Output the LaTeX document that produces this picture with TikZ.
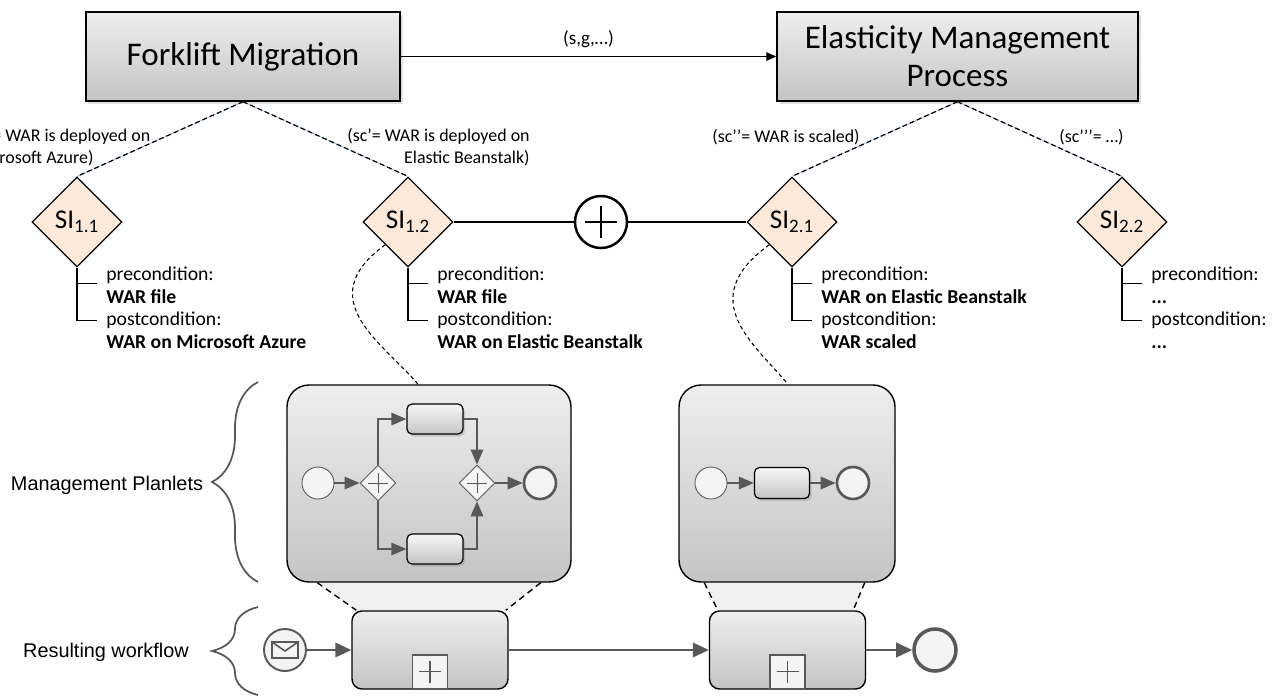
\documentclass[tikz,border=0pt]{standalone}
\usepackage{fontspec}
\usepackage{amsmath}
\setmainfont{Carlito}
\newfontfamily\arialfont{Liberation Sans}
\usetikzlibrary{calc}
\usetikzlibrary{arrows.meta}
\usetikzlibrary{shapes.geometric}
\usetikzlibrary{decorations.pathreplacing}
\usetikzlibrary{shadows}
\usetikzlibrary{backgrounds}

\definecolor{boxtop}{HTML}{EEEEEE}
\definecolor{boxbot}{HTML}{C4C4C4}
\definecolor{sifill}{HTML}{FCE9DA}
\definecolor{bpmngray}{HTML}{585858}
\definecolor{eventfill}{HTML}{F4F4F4}
\definecolor{hintblue}{HTML}{7AA6D6}
\definecolor{linkfill}{HTML}{F0F0F0}

\def\tbc{...}

\begin{document}
\begin{tikzpicture}[x=0.2mm, y=-0.2mm,
    titlebox/.style={draw, line width=0.8pt, top color=boxtop, bottom color=boxbot, align=center,
        inner sep=0pt, font=\fontsize{18.8pt}{21.6pt}\selectfont,
        drop shadow={shadow xshift=0.5mm, shadow yshift=-0.5mm, opacity=0.25}},
    titlearrow/.style={line width=0.75pt, -{Triangle[length=2mm, width=1.7mm]}},
    sinode/.style={draw, diamond, fill=sifill, line width=0.7pt, minimum width=18mm, minimum height=18mm,
        inner sep=0pt, font=\fontsize{15.4pt}{18pt}\selectfont},
    xorgate/.style={draw, circle, line width=1.4pt, fill=white, minimum size=10.4mm, inner sep=0pt,
        path picture={
            \draw[line width=1.4pt] ($(path picture bounding box.center)+(-16,0)$) -- ($(path picture bounding box.center)+(16,0)$);
            \draw[line width=1.4pt] ($(path picture bounding box.center)+(0,-16)$) -- ($(path picture bounding box.center)+(0,16)$);
        }},
    scline/.style={dash pattern=on 2.8pt off 1.7pt, line width=0.7pt},
    hint/.style={hintblue, line width=0.3pt},
    sclabel/.style={inner sep=0pt, font=\fontsize{10.2pt}{12pt}\selectfont},
    condtext/.style={inner sep=0pt, align=left, font=\fontsize{11.2pt}{12.8pt}\selectfont},
    planlet/.style={draw, line width=0.8pt, rounded corners=4.4mm, top color=boxtop, bottom color=boxbot,
        inner sep=0pt, minimum height=39.4mm},
    planletlink/.style={dash pattern=on 2.2pt off 1.7pt, line width=0.6pt},
    task/.style={draw, line width=0.7pt, rounded corners=1mm, top color=boxtop!50!white, bottom color=boxbot,
        minimum width=11.2mm, minimum height=6mm, inner sep=0pt,
        drop shadow={shadow xshift=0.4mm, shadow yshift=-0.5mm, opacity=0.3}},
    startev/.style={circle, draw=bpmngray, line width=0.5pt, fill=eventfill, minimum size=6.4mm, inner sep=0pt},
    endev/.style={circle, draw=bpmngray, line width=1.5pt, fill=eventfill, minimum size=6.4mm, inner sep=0pt},
    gateway/.style={diamond, draw=bpmngray, line width=0.5pt, fill=eventfill, minimum width=7.2mm,
        minimum height=7.2mm, inner sep=0pt,
        path picture={
            \draw[bpmngray, line width=0.5pt] ($(path picture bounding box.center)+(-10,0)$) -- ($(path picture bounding box.center)+(10,0)$);
            \draw[bpmngray, line width=0.5pt] ($(path picture bounding box.center)+(0,-10)$) -- ($(path picture bounding box.center)+(0,10)$);
        }},
    flow/.style={draw=bpmngray, line width=0.9pt, -{Triangle[length=3mm, width=2.5mm]}},
    wfflow/.style={draw=bpmngray, line width=1.1pt, -{Triangle[length=3.2mm, width=2.9mm]}},
    subproc/.style={draw, line width=0.8pt, rounded corners=2mm, top color=boxtop, bottom color=boxbot,
        minimum width=31.2mm, minimum height=15.6mm, inner sep=0pt},
    spmarker/.style={draw=bpmngray, line width=1.1pt, fill=eventfill, minimum width=7mm, minimum height=6.8mm,
        inner sep=0pt,
        path picture={
            \draw[bpmngray, line width=0.6pt] ($(path picture bounding box.center)+(-11,0)$) -- ($(path picture bounding box.center)+(11,0)$);
            \draw[bpmngray, line width=0.6pt] ($(path picture bounding box.center)+(0,-11)$) -- ($(path picture bounding box.center)+(0,11)$);
        }},
    zoomline/.style={dash pattern=on 3.5pt off 2.5pt, line width=0.8pt},
    bracelabel/.style={inner sep=0pt, font=\arialfont\fontsize{11.3pt}{13pt}\selectfont},
    ]
    \useasboundingbox (0,0) rectangle (1274,696);

    % Top Level Processes
    \node[titlebox, minimum width=62.8mm, minimum height=17.8mm] (fork) at (243,56.5) {Forklift Migration};
    \node[titlebox, minimum width=72.2mm, minimum height=17.8mm] (elastic) at (957.5,56.5) {Elasticity Management\\Process};
    \draw[titlearrow] (fork.east) -- (elastic.west) node[sclabel, midway, above=1.7mm] (sg) {\fontsize{10.8pt}{12pt}\selectfont(s,g,…)};

    % Service Instances
    \node[sinode] (si11) at (77,222) {SI$_{\text{1.1}}$};
    \node[sinode] (si12) at (408,222) {SI$_{\text{1.2}}$};
    \node[sinode] (si21) at (792,222) {SI$_{\text{2.1}}$};
    \node[sinode] (si22) at (1122,222) {SI$_{\text{2.2}}$};

    % Combination
    \node[xorgate] (xor) at (601,222) {};
    \draw[line width=0.7pt] (si12.east) -- (xor.west);
    \draw[line width=0.7pt] (xor.east) -- (si21.west);

    % Refinement Lines
    \foreach \from/\to in {fork/si11, fork/si12, elastic/si21, elastic/si22} {
        \draw[hint] (\from.south) -- (\to.north);
        \draw[scline] (\from.south) -- (\to.north);
    }

    % Refinement Labels
    \node[sclabel, anchor=north west, align=left] (lb11) at (-28,128.5) {(sc= WAR is deployed on\\Microsoft Azure)};
    \node[sclabel, anchor=north east, align=right] (lb12) at (530,128.5) {(sc’= WAR is deployed on\\Elastic Beanstalk)};
    \node[sclabel, anchor=base east] (lb21) at (860,142) {(sc’’= WAR is scaled)};
    \node[sclabel, anchor=base east] (lb22) at (1124,142) {(sc’’’= …)};

    % Pre- and Postconditions
    \foreach \n/\precond/\postcond in {si11/WAR file/WAR on Microsoft Azure,
            si12/WAR file/WAR on Elastic Beanstalk,
            si21/WAR on Elastic Beanstalk/WAR scaled,
            si22/\tbc/\tbc} {
        \draw[line width=0.6pt] (\n.south) -- ++(0,53) coordinate (\n-end);
        \draw[line width=0.6pt] ($(\n.south)+(0,16)$) -- ++(20,0);
        \draw[line width=0.6pt] (\n-end) -- ++(20,0);
        \node[condtext, anchor=north west] (\n-cond) at ($(\n.south)+(29,-1)$)
            {precondition:\\\textbf{\precond}\\postcondition:\\\textbf{\postcond}};
    }

    % Management Planlets
    \node[planlet, minimum width=56.8mm] (pl1) at (429,483.5) {};
    \node[planlet, minimum width=43.2mm] (pl2) at (787,483.5) {};

    % Planlet 1
    \node[startev] (start1) at (318,483) {};
    \node[gateway] (gw1) at (378,483) {};
    \node[task] (task1) at (435,419) {};
    \node[task] (task2) at (435,549) {};
    \node[gateway] (gw2) at (477,483) {};
    \node[endev] (end1) at (540,483) {};
    \draw[flow] (start1) -- (gw1);
    \draw[flow] (gw1.north) |- (task1.west);
    \draw[flow] (gw1.south) |- (task2.west);
    \draw[flow] (task1.east) -| (gw2.north);
    \draw[flow] (task2.east) -| (gw2.south);
    \draw[flow] (gw2) -- (end1);

    % Planlet 2
    \node[startev] (start2) at (711,483) {};
    \node[task, minimum width=11mm, minimum height=6.2mm] (task3) at (782,483) {};
    \node[endev] (end2) at (853,483) {};
    \draw[flow] (start2) -- (task3);
    \draw[flow] (task3) -- (end2);

    % Planlet Links
    \draw[planletlink] (si12.south west) .. controls ($(si12.south west)+(-76,55)$) and ($(pl1.north)+(-44,-40)$) .. ($(pl1.north)+(-11,0)$);
    \draw[planletlink] (si21.south west) .. controls ($(si21.south west)+(-76,55)$) and ($(pl2.north)+(-32,-40)$) .. ($(pl2.north)+(1,0)$);

    % Resulting Workflow
    \node[circle, draw=bpmngray, line width=1.1pt, fill=eventfill, minimum size=8.4mm, inner sep=0pt] (msg) at (285,650) {};
    \draw[bpmngray, line width=0.9pt, fill=eventfill] ($(msg)+(-13,-8)$) rectangle ($(msg)+(13,8)$);
    \draw[bpmngray, line width=0.9pt] ($(msg)+(-13,-8)$) -- ($(msg)+(0,1)$) -- ($(msg)+(13,-8)$);
    \node[subproc] (wf1) at (430,650) {};
    \node[subproc] (wf2) at (787.5,650) {};
    \node[spmarker, anchor=south] (wf1mark) at (wf1.south) {};
    \node[spmarker, anchor=south] (wf2mark) at (wf2.south) {};
    \node[circle, draw=bpmngray, line width=2pt, fill=eventfill, minimum size=8.4mm, inner sep=0pt] (wfend) at (935,650) {};
    \draw[wfflow] (msg) -- (wf1.west);
    \draw[wfflow] (wf1.east) -- (wf2.west);
    \draw[wfflow] (wf2.east) -- (wfend);

    % Zoom Areas
    \begin{scope}[on background layer]
        \fill[linkfill] ($(pl1.south west)+(31,0)$) -- ($(pl1.south east)+(-31,0)$) -- ($(wf1.north east)+(-3,0)$) -- ($(wf1.north west)+(5,0)$) -- cycle;
        \fill[linkfill] ($(pl2.south west)+(26,0)$) -- ($(pl2.south east)+(-31,0)$) -- ($(wf2.north east)+(-13,0)$) -- ($(wf2.north west)+(9,0)$) -- cycle;
    \end{scope}
    \draw[zoomline] ($(pl1.south west)+(31,0)$) -- ($(wf1.north west)+(5,0)$);
    \draw[zoomline] ($(pl1.south east)+(-31,0)$) -- ($(wf1.north east)+(-3,0)$);
    \draw[zoomline] ($(pl2.south west)+(26,0)$) -- ($(wf2.north west)+(9,0)$);
    \draw[zoomline] ($(pl2.south east)+(-31,0)$) -- ($(wf2.north east)+(-13,0)$);

    % Braces
    \draw[bpmngray, line width=1pt, decorate, decoration={brace, amplitude=9.2mm}] (258,582) -- (258,382);
    \draw[bpmngray, line width=1pt, decorate, decoration={brace, amplitude=9.2mm}] (258,695) -- (258,607);
    \node[bracelabel] (plabel) at (107,485) {Management Planlets};
    \node[bracelabel] (wlabel) at (106,652) {Resulting workflow};

\end{tikzpicture}
\end{document}
